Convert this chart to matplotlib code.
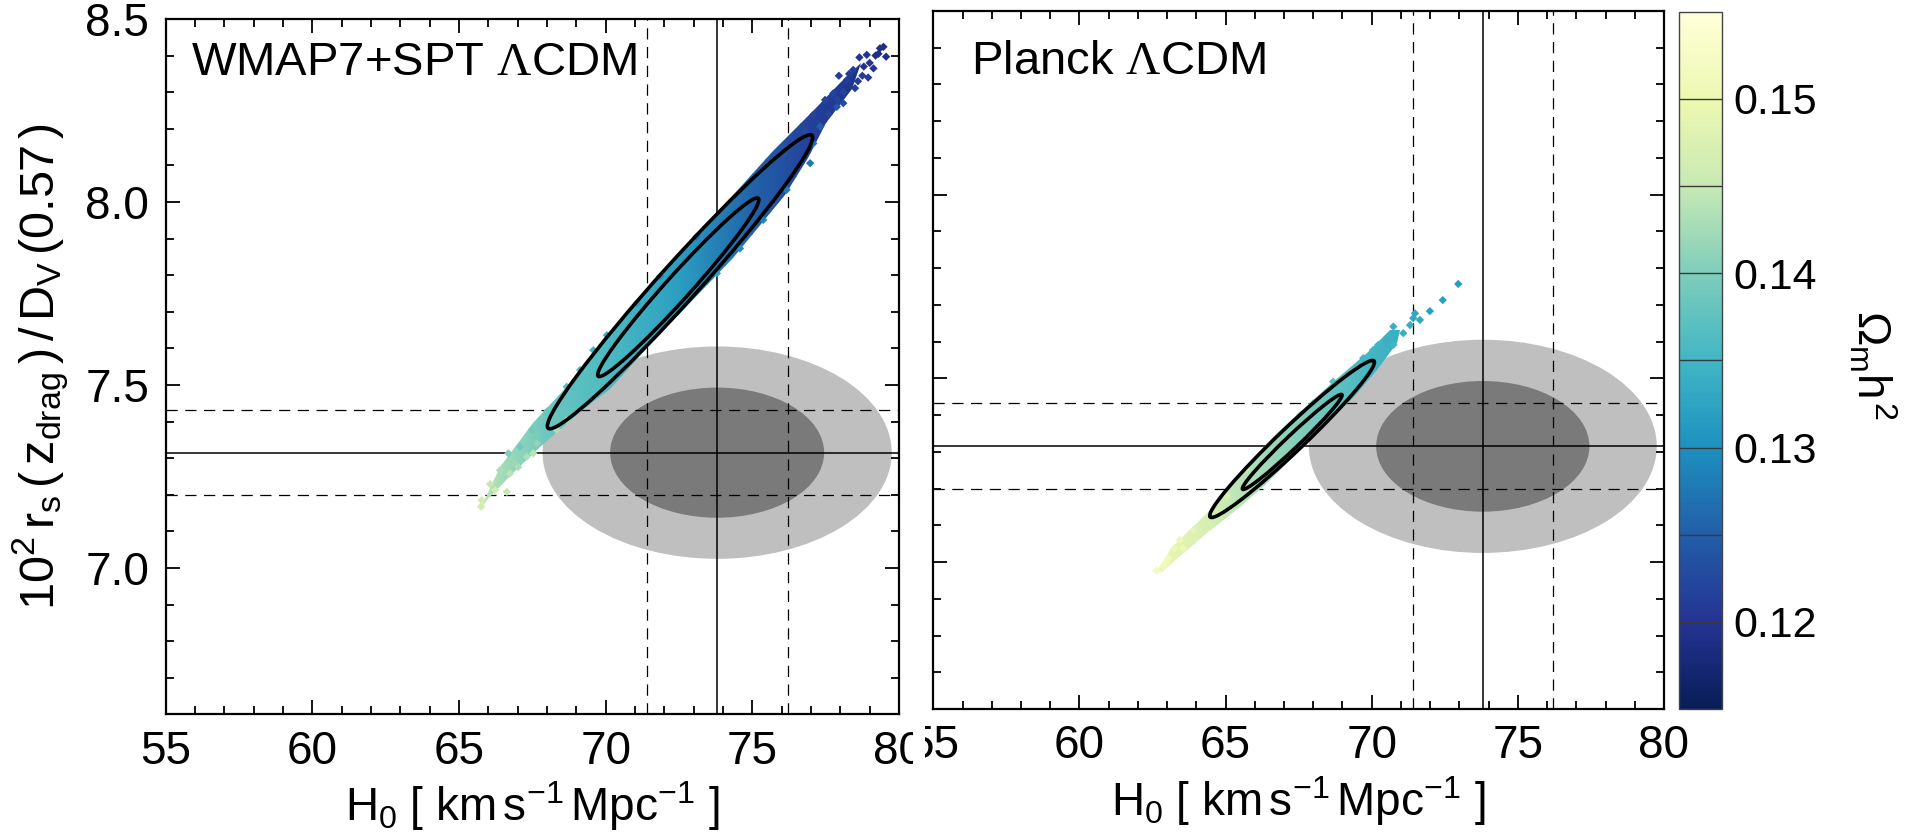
import numpy as np
import matplotlib
matplotlib.use('Agg')
import matplotlib.pyplot as plt
from matplotlib.patches import Ellipse, Polygon
from matplotlib.transforms import Affine2D, Bbox, TransformedBbox
from matplotlib.ticker import MultipleLocator
from matplotlib.colors import Normalize
from matplotlib.cm import ScalarMappable

plt.rcParams['font.family'] = ['Liberation Sans', 'DejaVu Sans']
plt.rcParams['mathtext.fontset'] = 'custom'
plt.rcParams['mathtext.rm'] = 'Liberation Sans'
plt.rcParams['mathtext.it'] = 'Liberation Sans'
plt.rcParams['mathtext.bf'] = 'Liberation Serif'   # used only for the Lambda

# local H0 and BOSS rs/Dv(0.57) measurement
h0_mean, h0_sigma = 73.8, 2.4
rsdv_mean, rsdv_sigma = 7.315, 0.117
ellipse_nsig = [2.48, 1.52]
ellipse_grey = ['#bfbfbf', '#7a7a7a']

panel_titles = ['WMAP7+SPT $\\mathbf{\\Lambda}$CDM', 'Planck $\\mathbf{\\Lambda}$CDM']

# outline of the dense part of each chain (H0, 10^2 rs/Dv)
wmap_edge_h0 = [65.72, 66.40, 67.52, 68.89, 71.17, 73.11, 75.71, 77.10, 78.00, 78.70,
                78.40, 77.50, 76.90, 76.10, 74.34, 72.77, 71.41, 70.15, 69.13, 67.76, 66.84, 65.95]
wmap_edge_rd = [7.158, 7.276, 7.396, 7.513, 7.735, 7.910, 8.140, 8.250, 8.325, 8.380,
                8.310, 8.215, 8.120, 8.020, 7.848, 7.715, 7.600, 7.490, 7.425, 7.330, 7.259, 7.185]
planck_edge_h0 = [62.64, 63.16, 64.12, 64.58, 65.49, 66.63, 67.55, 68.68, 69.83, 70.62,
                  70.97, 70.85, 70.17, 69.37, 68.68, 67.77, 67.09, 66.41, 65.49, 64.35, 63.67, 62.81]
planck_edge_rd = [6.977, 7.042, 7.115, 7.151, 7.242, 7.341, 7.409, 7.491, 7.568, 7.632,
                  7.632, 7.596, 7.523, 7.446, 7.396, 7.323, 7.269, 7.214, 7.151, 7.078, 7.033, 6.974]

# Omega_m h^2 along each chain
wmap_grad_h0 = [65.5, 68.0, 70.0, 72.5, 75.0, 77.0, 79.9]
wmap_grad_om = [0.145, 0.1385, 0.136, 0.132, 0.1255, 0.1215, 0.118]
planck_grad_h0 = [62.4, 64.5, 67.3, 70.0, 73.2]
planck_grad_om = [0.150, 0.147, 0.1405, 0.135, 0.132]

# loose samples outside the dense part
wmap_pts_h0 = [79.47, 79.56, 78.90, 79.13, 78.44, 78.22, 78.50, 77.76, 77.48, 77.88,
               77.08, 77.31, 76.80, 76.51, 76.06, 77.08, 76.97, 76.17, 75.37, 74.58,
               73.79, 73.10, 71.85, 71.06, 70.04, 69.58, 69.13, 68.67,
               65.75, 65.77, 66.06, 66.23, 66.63, 66.40, 66.74, 66.68, 66.91, 67.02,
               67.31, 67.53, 67.65, 67.08, 67.48, 67.76, 67.99, 68.33, 68.67, 68.90,
               79.00, 78.75, 79.30, 78.10, 77.95, 78.65,
               78.30, 78.60, 78.80, 79.20, 77.90, 78.10, 77.60, 79.35, 78.95]
wmap_pts_rd = [8.424, 8.397, 8.402, 8.365, 8.361, 8.333, 8.311, 8.297, 8.279, 8.260,
               8.238, 8.206, 8.192, 8.160, 8.151, 8.160, 8.106, 8.033, 7.951, 7.873,
               7.805, 7.905, 7.796, 7.723, 7.636, 7.595, 7.541, 7.495,
               7.167, 7.185, 7.229, 7.213, 7.208, 7.267, 7.258, 7.313, 7.286, 7.276,
               7.304, 7.313, 7.340, 7.331, 7.377, 7.395, 7.427, 7.377, 7.404, 7.495,
               8.380, 8.345, 8.405, 8.300, 8.345, 8.395,
               8.350, 8.330, 8.370, 8.400, 8.280, 8.270, 8.240, 8.420, 8.340]
wmap_pts_om = [0.119, 0.119, 0.120, 0.120, 0.121, 0.121, 0.121, 0.122, 0.122, 0.124,
               0.122, 0.125, 0.123, 0.123, 0.124, 0.127, 0.128, 0.128, 0.129, 0.130,
               0.132, 0.127, 0.130, 0.132, 0.134, 0.135, 0.136, 0.137,
               0.146, 0.146, 0.145, 0.146, 0.145, 0.143, 0.144, 0.140, 0.142, 0.143,
               0.143, 0.144, 0.141, 0.139, 0.139, 0.139, 0.138, 0.143, 0.142, 0.137,
               0.120, 0.121, 0.119, 0.122, 0.121, 0.120,
               0.121, 0.121, 0.120, 0.119, 0.122, 0.123, 0.122, 0.119, 0.121]
planck_pts_h0 = [72.96, 72.43, 71.99, 71.48, 71.65, 71.42, 71.31, 70.74, 71.08, 70.51,
                 70.22, 70.74, 70.05, 69.71, 68.68, 68.00, 67.55, 65.72, 65.04, 63.90,
                 63.44, 63.27, 63.04, 62.99, 62.64, 62.87, 63.55]
planck_pts_rd = [7.757, 7.713, 7.683, 7.677, 7.659, 7.664, 7.645, 7.641, 7.623, 7.605,
                 7.591, 7.591, 7.577, 7.555, 7.491, 7.432, 7.400, 7.251, 7.178, 7.087,
                 7.060, 7.038, 7.010, 7.001, 6.977, 6.988, 7.038]
planck_pts_om = [0.1315, 0.132, 0.132, 0.133, 0.133, 0.133, 0.134, 0.134, 0.134, 0.134,
                 0.135, 0.135, 0.135, 0.135, 0.137, 0.139, 0.140, 0.145, 0.147, 0.149,
                 0.150, 0.150, 0.151, 0.151, 0.152, 0.151, 0.150]

# 68/95% contours: centre H0, centre rd, semi-major, semi-minor (H0 units, screen frame), angle
wmap_contours = [(72.535, 7.782, 6.72, 0.66, 48.0), (72.475, 7.767, 4.08, 0.42, 48.0)]
planck_contours = [(67.275, 7.335, 3.87, 0.42, 43.6), (67.28, 7.327, 2.345, 0.22, 43.6)]

cbar_ticks = [0.12, 0.13, 0.14, 0.15]
cbar_lines = [0.12, 0.125, 0.13, 0.135, 0.14, 0.145, 0.15]
om_min, om_max = 0.115, 0.155
xlim, ylim = (55, 80), (6.6, 8.5)

cmap = plt.get_cmap('YlGnBu_r')
norm = Normalize(om_min, om_max)

W, H = 1906, 835
fig = plt.figure(figsize=(W / 100, H / 100), dpi=100)
ax1 = fig.add_axes([165.7 / W, 1 - 714.3 / H, 733.3 / W, 695.3 / H])
ax2 = fig.add_axes([933.3 / W, 1 - 709 / H, 730.7 / W, 698 / H])
cax = fig.add_axes([1679.3 / W, 1 - 709 / H, 42.7 / W, 697.3 / H])


def draw_panel(ax, title, title_x, title_y, edge_h0, edge_rd, grad_h0, grad_om,
               pts_h0, pts_rd, pts_om, contours):
    # measurement ellipses
    for ns, col in zip(ellipse_nsig, ellipse_grey):
        ax.add_patch(Ellipse((h0_mean, rsdv_mean), 2 * ns * h0_sigma, 2 * ns * rsdv_sigma,
                             fc=col, ec='none', zorder=1))
    ax.axvline(h0_mean, color='k', lw=1.1, zorder=2)
    ax.axhline(rsdv_mean, color='k', lw=1.1, zorder=2)
    for s in (-1, 1):
        ax.axvline(h0_mean + s * h0_sigma, color='k', lw=0.9, ls=(0, (9, 6)), zorder=2)
        ax.axhline(rsdv_mean + s * rsdv_sigma, color='k', lw=0.9, ls=(0, (9, 6)), zorder=2)

    # chain samples: gradient filled outline + loose points
    outline = Polygon(np.column_stack([edge_h0, edge_rd]), closed=True,
                      transform=ax.transData, fc='none', ec='none')
    gx = np.array([grad_h0, grad_h0])
    gy = np.array([[6.5] * len(grad_h0), [8.6] * len(grad_h0)])
    gc = np.array([grad_om, grad_om])
    mesh = ax.pcolormesh(gx, gy, gc, shading='gouraud', cmap=cmap, norm=norm, zorder=3)
    mesh.set_clip_path(outline)
    ax.scatter(pts_h0, pts_rd, c=pts_om, cmap=cmap, norm=norm, s=18, marker='D',
               linewidths=0, zorder=3)

    # contours drawn in a frame where both axes have the same pixel scale
    pos = ax.get_position()
    k = (pos.height * H / (ylim[1] - ylim[0])) / (pos.width * W / (xlim[1] - xlim[0]))
    tr = Affine2D().scale(1, 1 / k) + ax.transData
    for ch, cr, a, b, ang in contours:
        ax.add_patch(Ellipse((ch, cr * k), 2 * a, 2 * b, angle=ang, transform=tr,
                             fill=False, ec='black', lw=2.6, zorder=5))

    ax.text(title_x, title_y, title, transform=ax.transAxes,
            fontsize=34, va='baseline', ha='left', zorder=6)

    ax.set_xlim(*xlim)
    ax.set_ylim(*ylim)
    ax.set_xticks([55, 60, 65, 70, 75, 80])
    ax.set_yticks([7.0, 7.5, 8.0, 8.5])
    ax.xaxis.set_minor_locator(MultipleLocator(1))
    ax.yaxis.set_minor_locator(MultipleLocator(0.1))
    ax.tick_params(which='both', direction='in', top=True, right=True, width=1.3,
                   labelsize=33)
    ax.tick_params(which='major', length=10)
    ax.tick_params(which='minor', length=5.5)
    ax.tick_params(axis='x', pad=11)
    ax.tick_params(axis='y', pad=12)
    for sp in ax.spines.values():
        sp.set_linewidth(1.6)
    ax.set_xlabel(r'$H_0\ [\ {\rm km\,s^{-1}\,Mpc^{-1}}\ ]$', fontsize=33, labelpad=4)


draw_panel(ax1, panel_titles[0], 0.034, 0.92, wmap_edge_h0, wmap_edge_rd, wmap_grad_h0,
           wmap_grad_om, wmap_pts_h0, wmap_pts_rd, wmap_pts_om, wmap_contours)
draw_panel(ax2, panel_titles[1], 0.051, 0.91, planck_edge_h0, planck_edge_rd, planck_grad_h0,
           planck_grad_om, planck_pts_h0, planck_pts_rd, planck_pts_om, planck_contours)

ax1.set_yticklabels(['7.0', '7.5', '8.0', '8.5'])
ax2.tick_params(labelleft=False)
ax1.set_ylabel(r'$10^2\,r_{\rm s}\,(\,z_{\rm drag}\,)\,/\,D_{\rm V}\,(0.57\,)$',
               fontsize=35, labelpad=10)

# the two panels' end labels overlap in the original: cut them at the gap
cut_left, cut_right = 912.7 / W, 925.0 / W
for lab in ax1.get_xticklabels():
    if lab.get_text() == '80':
        lab.set_clip_box(TransformedBbox(Bbox.from_extents(0, 0, cut_left, 1), fig.transFigure))
        lab.set_clip_on(True)
for lab in ax2.get_xticklabels():
    if lab.get_text() == '55':
        lab.set_clip_box(TransformedBbox(Bbox.from_extents(cut_right, 0, 1, 1), fig.transFigure))
        lab.set_clip_on(True)

cb = fig.colorbar(ScalarMappable(norm=norm, cmap=cmap), cax=cax)
cb.set_ticks(cbar_ticks)
cb.ax.set_yticklabels(['%.2f' % t for t in cbar_ticks])
cax.tick_params(length=0, labelsize=31, pad=8)
for b in cbar_lines:
    cax.axhline(b, color='#3a3a3a', lw=1.0)
cb.outline.set_linewidth(1.0)
cb.outline.set_edgecolor('#444444')
fig.text(1872 / W, 1 - 365 / H, r'$\Omega_{\rm m}h^2$', rotation=270, fontsize=33,
         ha='center', va='center')

fig.savefig('out.png', dpi=100)
